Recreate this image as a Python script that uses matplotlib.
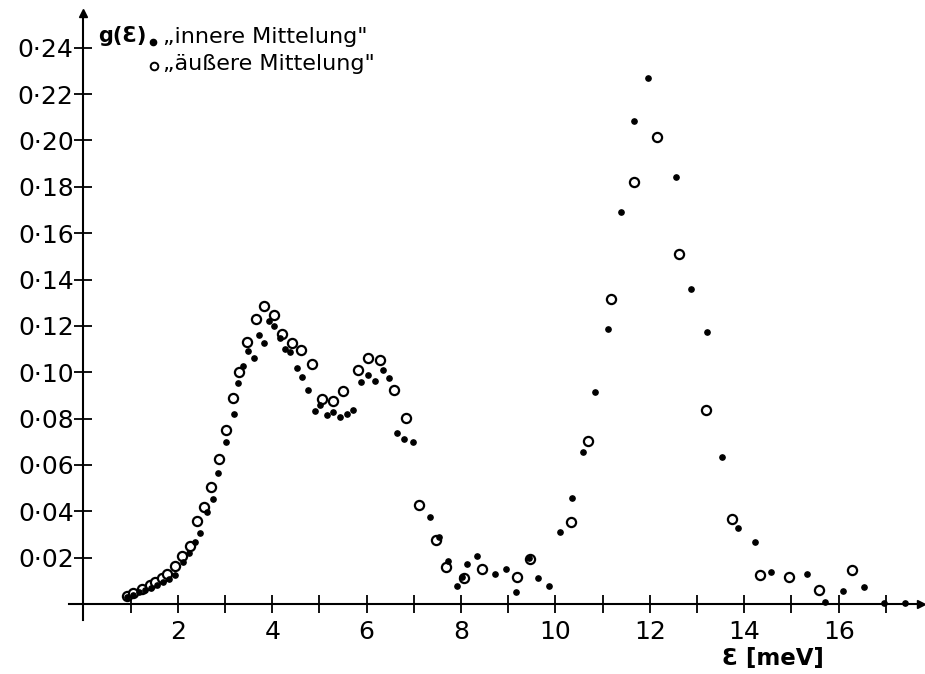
import matplotlib
matplotlib.use("Agg")
import matplotlib.pyplot as plt

# g(E) from "innere Mittelung" (small filled dots)
inner_E = [0.93, 1.05, 1.18, 1.30, 1.43, 1.56, 1.69, 1.82, 1.95, 2.11, 2.23, 2.36,
           2.47, 2.61, 2.74, 2.86, 3.01, 3.18, 3.27, 3.39, 3.49, 3.61, 3.72, 3.82,
           3.93, 4.04, 4.16, 4.26, 4.38, 4.52, 4.64, 4.76, 4.90, 5.02, 5.16, 5.29,
           5.43, 5.58, 5.72, 5.87, 6.02, 6.17, 6.34, 6.48, 6.65, 6.80, 6.99, 7.34,
           7.54, 7.73, 7.92, 8.01, 8.12, 8.33, 8.72, 8.95, 9.17, 9.43, 9.62, 9.86,
           10.10, 10.36, 10.59, 10.84, 11.12, 11.39, 11.66, 11.97, 12.55, 12.87,
           13.20, 13.53, 13.87, 14.22, 14.57, 15.33, 15.70, 16.10, 16.54, 16.96, 17.40]
inner_g = [0.0030, 0.0040, 0.0050, 0.0060, 0.0070, 0.0082, 0.0095, 0.0108, 0.0125,
           0.0180, 0.0220, 0.0268, 0.0305, 0.0398, 0.0455, 0.0566, 0.0700, 0.0818,
           0.0955, 0.1027, 0.1093, 0.1063, 0.1160, 0.1126, 0.1222, 0.1201, 0.1146,
           0.1099, 0.1087, 0.1017, 0.0981, 0.0922, 0.0833, 0.0858, 0.0817, 0.0827,
           0.0805, 0.0821, 0.0837, 0.0956, 0.0987, 0.0964, 0.1009, 0.0975, 0.0736,
           0.0710, 0.0700, 0.0377, 0.0290, 0.0185, 0.0078, 0.0115, 0.0171, 0.0207,
           0.0128, 0.0152, 0.0050, 0.0200, 0.0113, 0.0078, 0.0312, 0.0456, 0.0656,
           0.0913, 0.1188, 0.1691, 0.2085, 0.2268, 0.1841, 0.1360, 0.1173, 0.0636,
           0.0327, 0.0266, 0.0137, 0.0131, 0.0007, 0.0055, 0.0075, 0.0006, 0.0006]

# g(E) from "äußere Mittelung" (open circles)
outer_E = [0.92, 1.06, 1.23, 1.41, 1.51, 1.66, 1.78, 1.94, 2.08, 2.25, 2.41, 2.56,
           2.70, 2.88, 3.01, 3.17, 3.29, 3.46, 3.65, 3.83, 4.03, 4.21, 4.41, 4.61,
           4.85, 5.06, 5.29, 5.50, 5.81, 6.03, 6.28, 6.58, 6.83, 7.11, 7.46, 7.69,
           8.06, 8.44, 9.18, 9.47, 10.33, 10.68, 11.18, 11.66, 12.16, 12.62, 13.19,
           13.75, 14.33, 14.95, 15.58, 16.29]
outer_g = [0.0036, 0.0049, 0.0063, 0.0082, 0.0096, 0.0111, 0.0129, 0.0164, 0.0207,
           0.0250, 0.0359, 0.0417, 0.0503, 0.0627, 0.0751, 0.0887, 0.1000, 0.1132,
           0.1231, 0.1286, 0.1247, 0.1165, 0.1127, 0.1094, 0.1037, 0.0883, 0.0874,
           0.0919, 0.1009, 0.1060, 0.1052, 0.0923, 0.0801, 0.0429, 0.0276, 0.0161,
           0.0111, 0.0150, 0.0115, 0.0193, 0.0354, 0.0702, 0.1314, 0.1820, 0.2016,
           0.1509, 0.0836, 0.0367, 0.0125, 0.0115, 0.0060, 0.0147]

x_ticks = list(range(1, 18))
x_ticklabels = [str(t) if t % 2 == 0 else "" for t in x_ticks]
y_ticks = [0.02, 0.04, 0.06, 0.08, 0.10, 0.12, 0.14, 0.16, 0.18, 0.20, 0.22, 0.24]
y_ticklabels = ["0·02", "0·04", "0·06", "0·08", "0·10", "0·12",
                "0·14", "0·16", "0·18", "0·20", "0·22", "0·24"]

W, H = 925, 674
fig = plt.figure(figsize=(W / 100, H / 100), dpi=100)
ax = fig.add_axes([0.0749, 0.0798, 0.9211, 0.9009])
ax.set_xlim(-0.3, 17.75)
ax.set_ylim(-0.007, 0.255)

for side in ("top", "right"):
    ax.spines[side].set_visible(False)
for side in ("left", "bottom"):
    ax.spines[side].set_position(("data", 0))
    ax.spines[side].set_linewidth(1.5)

ax.set_xticks(x_ticks)
ax.set_xticklabels(x_ticklabels)
ax.set_yticks(y_ticks)
ax.set_yticklabels(y_ticklabels)
ax.tick_params(axis="both", direction="inout", length=13, width=1.3,
               labelsize=18, colors="black")
ax.tick_params(axis="x", pad=5.0)
ax.tick_params(axis="y", pad=0.5)

# axis arrows
ax.plot([0], [0.255], marker="^", ms=6, color="black", clip_on=False)
ax.plot([17.75], [0], marker=">", ms=6, color="black", clip_on=False)

ax.plot(outer_E, outer_g, linestyle="none", marker="o", ms=6.6, mfc="white",
        mec="black", mew=1.6, clip_on=False)
ax.plot(inner_E, inner_g, linestyle="none", marker="o", ms=3.8, color="black",
        clip_on=False)

def px(x, y):
    return x / W, 1 - y / H

fig.text(*px(98, 36), "g(Ɛ)", fontsize=15, fontweight="bold", va="center", ha="left")
fig.text(*px(163, 37), "„innere Mittelung\"", fontsize=16, va="center", ha="left")
fig.text(*px(163, 64), "„äußere Mittelung\"", fontsize=16, va="center", ha="left")
fig.lines.append(plt.Line2D([153 / W], [1 - 42 / H], transform=fig.transFigure,
                            marker="o", ms=4.5, color="black", linestyle="none"))
fig.lines.append(plt.Line2D([154 / W], [1 - 66 / H], transform=fig.transFigure,
                            marker="o", ms=5.5, mfc="white", mec="black", mew=1.4,
                            linestyle="none"))

fig.text(*px(722, 659), "Ɛ [meV]", fontsize=16.5, fontweight="bold", va="center", ha="left")

fig.savefig("out.png", dpi=100)
